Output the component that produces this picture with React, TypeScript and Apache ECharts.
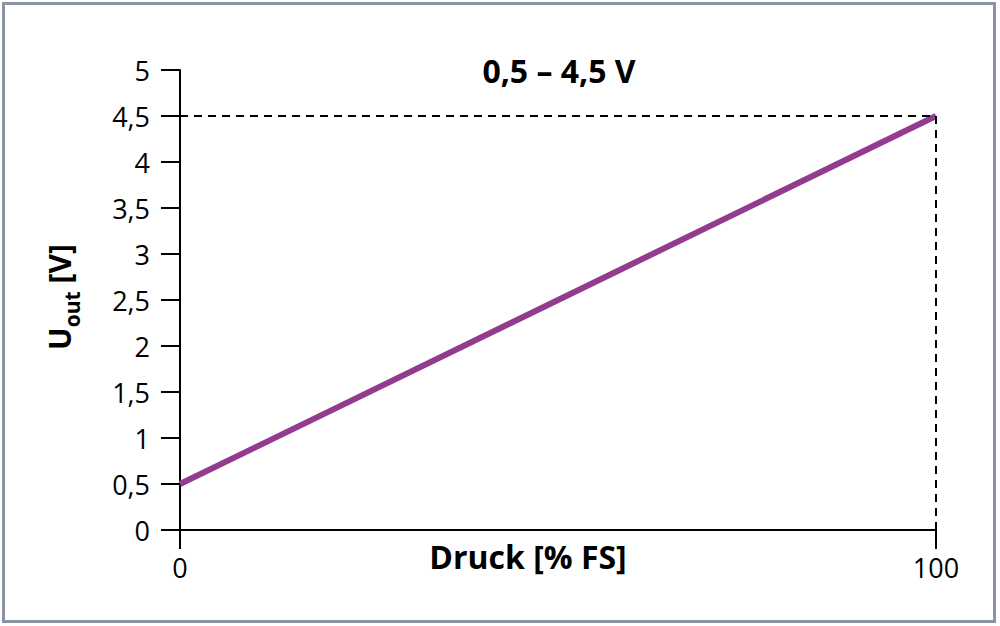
import React, { useEffect, useRef } from "react";
import * as echarts from "echarts";

const xValues = [0, 100];
const yValues = [0.5, 4.5];
const xTicks = [0, 100];
const yMin = 0;
const yMax = 5;
const yStep = 0.5;
const titleText = "0,5 – 4,5 V";
const xName = "Druck [% FS]";

const FONT = "'Open Sans', 'Noto Sans', sans-serif";

export default function App() {
  const ref = useRef<HTMLDivElement>(null);
  useEffect(() => {
    if (!ref.current) return;
    const chart = echarts.init(ref.current, null, { renderer: "svg" });
    const data = xValues.map((x, i) => [x, yValues[i]]);
    chart.setOption({
      animation: false,
      backgroundColor: "#ffffff",
      grid: { left: 180, right: 64, top: 70, bottom: 96, containLabel: false },
      xAxis: {
        type: "value",
        min: xTicks[0],
        max: xTicks[xTicks.length - 1],
        interval: xTicks[1] - xTicks[0],
        splitLine: { show: false },
        axisLine: { show: true, lineStyle: { color: "#000", width: 2 } },
        axisTick: { show: true, length: 19, lineStyle: { color: "#000", width: 2 } },
        axisLabel: {
          margin: 24,
          color: "#000",
          fontFamily: FONT,
          fontSize: 27,
          formatter: (v: number) => String(v),
        },
      },
      yAxis: {
        type: "value",
        min: yMin,
        max: yMax,
        interval: yStep,
        splitLine: { show: false },
        axisLine: { show: true, lineStyle: { color: "#000", width: 2 } },
        axisTick: { show: true, length: 19, lineStyle: { color: "#000", width: 2 } },
        axisLabel: {
          margin: 30,
          color: "#000",
          fontFamily: FONT,
          fontSize: 27,
          formatter: (v: number) => String(v).replace(".", ","),
        },
      },
      series: [
        {
          type: "line",
          data,
          symbol: "none",
          lineStyle: { color: "#923b8f", width: 6, cap: "butt" },
          z: 3,
          markLine: {
            silent: true,
            symbol: ["none", "none"],
            label: { show: false },
            lineStyle: { color: "#000", width: 2, type: [8, 6] },
            data: [
              [{ coord: [xValues[0], yValues[1]] }, { coord: [xValues[1], yValues[1]] }],
              [{ coord: [xValues[1], yValues[1]] }, { coord: [xValues[1], yMin] }],
            ],
          },
        },
      ],
      graphic: [
        {
          type: "rect",
          shape: { x: 3.5, y: 3.5, width: 991, height: 618 },
          style: { fill: "none", stroke: "#8a94a2", lineWidth: 3 },
          silent: true,
          z: 10,
        },
        {
          type: "text",
          x: 559,
          y: 70,
          style: {
            text: titleText,
            fontFamily: FONT,
            fontWeight: "bold",
            fontSize: 32,
            fill: "#000",
            align: "center",
            verticalAlign: "middle",
          },
        },
        {
          type: "text",
          x: 528,
          y: 556,
          style: {
            text: xName,
            fontFamily: FONT,
            fontWeight: "bold",
            fontSize: 32,
            fill: "#000",
            align: "center",
            verticalAlign: "middle",
          },
        },
        {
          type: "text",
          x: 56,
          y: 297,
          rotation: Math.PI / 2,
          style: {
            text: "{b|U}{s|out}{b| [V]}",
            align: "center",
            verticalAlign: "middle",
            rich: {
              b: { fontFamily: FONT, fontWeight: "bold", fontSize: 30, fill: "#000", verticalAlign: "bottom", lineHeight: 36 },
              s: { fontFamily: FONT, fontWeight: "bold", fontSize: 21, fill: "#000", verticalAlign: "bottom", lineHeight: 36, padding: [0, 0, -8, 0] },
            },
          },
        },
      ],
    });
    return () => chart.dispose();
  }, []);
  return (
    <div
      ref={ref}
      style={{ position: "fixed", left: 0, top: 0, width: 1000, height: 626 }}
    />
  );
}
